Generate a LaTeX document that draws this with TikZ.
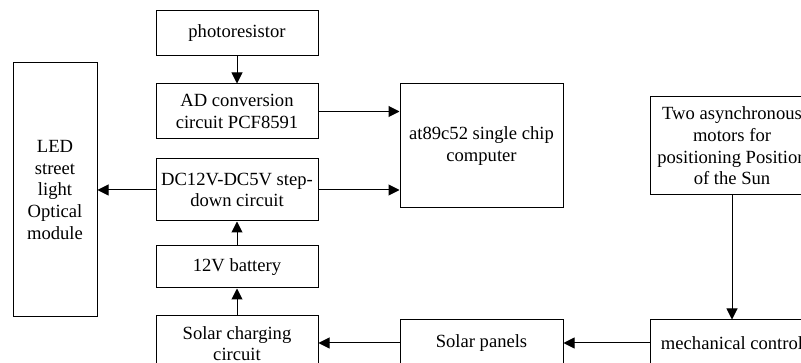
\documentclass[tikz,border=0pt]{standalone}
\usepackage{fontspec}
\setmainfont{Liberation Serif}
\usetikzlibrary{arrows.meta}
\begin{document}
\begin{tikzpicture}[x=1pt,y=-1pt,
  blk/.style={draw,line width=1pt,inner sep=0pt,align=center,
    font=\fontsize{18.6}{21.7}\selectfont},
  conn/.style={line width=1pt,-{Triangle[length=11pt,width=11pt]}}]
\useasboundingbox (0,0) rectangle (801,363);
\fill[white] (0,0) rectangle (801,363);
\clip (0,0) rectangle (801,363);
\node[blk,minimum width=162pt,minimum height=45pt] (photo) at (237,33.5) {photoresistor};
\node[blk,minimum width=162pt,minimum height=55pt] (ad) at (237,111.5) {AD conversion\\circuit PCF8591};
\node[blk,minimum width=162pt,minimum height=62pt] (dc) at (237,190) {DC12V-DC5V step-\\down circuit};
\node[blk,minimum width=162pt,minimum height=42pt] (bat) at (237,267) {12V battery};
\node[blk,minimum width=162pt,minimum height=55pt] (chg) at (237,343.5) {Solar charging\\circuit};
\node[blk,minimum width=84pt,minimum height=254pt] (led) at (55,190) {LED\\street\\light\\Optical\\module};
\node[blk,minimum width=163pt,minimum height=124pt] (mcu) at (481.5,146) {at89c52 single chip\\computer};
\node[blk,minimum width=164pt,minimum height=98pt] (mot) at (732,146) {Two asynchronous\\motors for\\positioning Position\\of the Sun};
\node[blk,minimum width=163pt,minimum height=46pt] (pan) at (481.5,343) {Solar panels};
\node[blk,minimum width=164pt,minimum height=46pt] (mech) at (732,343) {mechanical control};
\draw[conn] (photo.south) -- (ad.north);
\draw[conn] (ad.east) -- (ad.east -| mcu.west);
\draw[conn] (dc.west) -- (dc.west -| led.east);
\draw[conn] (dc.east) -- (dc.east -| mcu.west);
\draw[conn] (bat.north) -- (dc.south);
\draw[conn] (chg.north) -- (bat.south);
\draw[conn] (mot.south) -- (mech.north);
\draw[conn] (mech.west) -- (pan.east);
\draw[conn] (pan.west) -- (pan.west -| chg.east);
\end{tikzpicture}
\end{document}
